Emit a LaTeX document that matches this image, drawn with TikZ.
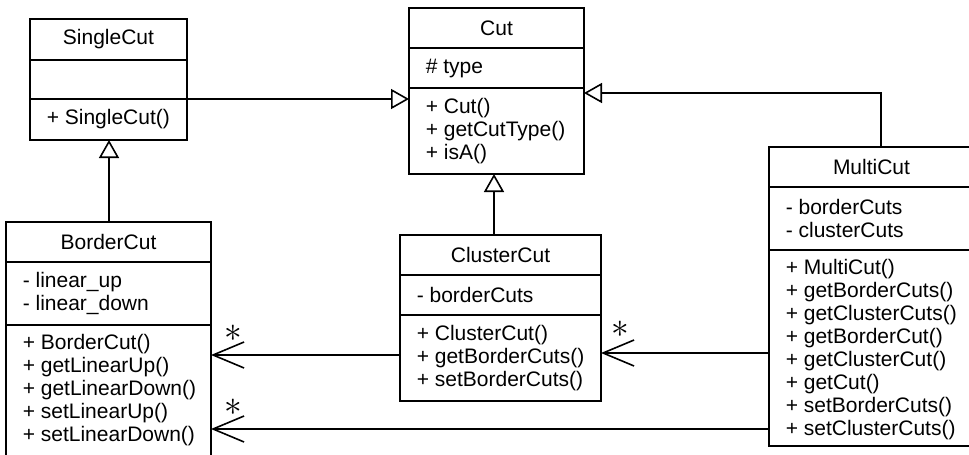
\documentclass[tikz,border=0pt]{standalone}
\usepackage{fontspec}
\usepackage{graphicx}
\setmainfont{Liberation Sans}
\usetikzlibrary{arrows.meta}
\begin{document}
\begin{tikzpicture}[x=1pt,y=-1pt, line width=1.6pt,
  comp/.style={draw, rectangle, inner sep=0pt, outer sep=0pt, anchor=north west},
  txt/.style={inner sep=0pt, align=left, font=\fontsize{21}{23}\selectfont, anchor=west},
  ttl/.style={inner sep=0pt, font=\fontsize{21}{23}\selectfont},
  gen/.style={-{Triangle[open,length=18pt,width=20pt]}},
  assoc/.style={-{Straight Barb[length=31pt,width=26pt]}},
  mult/.style={inner sep=0pt, font=\fontsize{20}{20}\selectfont}]
\useasboundingbox (0,0) rectangle (969,455);
\clip (0,0) rectangle (969,455);

% SingleCut
\node[comp, minimum width=157pt, minimum height=41pt] (scT) at (30,19) {};
\node[comp, minimum width=157pt, minimum height=39pt] (scA) at (30,60) {};
\node[comp, minimum width=157pt, minimum height=41pt] (scM) at (30,99) {};
\node[ttl] (scTt) at (scT) {SingleCut};
\node[txt] (scMt) at ([xshift=16pt]scM.west) {+ SingleCut()};

% Cut
\node[comp, minimum width=175pt, minimum height=40pt] (cutT) at (409,8) {};
\node[comp, minimum width=175pt, minimum height=40pt] (cutA) at (409,48) {};
\node[comp, minimum width=175pt, minimum height=86pt] (cutM) at (409,88) {};
\node[ttl] (cutTt) at (cutT) {Cut};
\node[txt] (cutAt) at ([xshift=16pt]cutA.west) {\# type};
\node[txt] (cutMt) at ([xshift=16pt]cutM.west) {+ Cut()\\+ getCutType()\\+ isA()};

% ClusterCut
\node[comp, minimum width=201pt, minimum height=40pt] (ccT) at (400,235) {};
\node[comp, minimum width=201pt, minimum height=40pt] (ccA) at (400,275) {};
\node[comp, minimum width=201pt, minimum height=86pt] (ccM) at (400,315) {};
\node[ttl] (ccTt) at (ccT) {ClusterCut};
\node[txt] (ccAt) at ([xshift=16pt]ccA.west) {- borderCuts};
\node[txt] (ccMt) at ([xshift=16pt]ccM.west) {+ ClusterCut()\\+ getBorderCuts()\\+ setBorderCuts()};

% BorderCut
\node[comp, minimum width=205pt, minimum height=40pt] (bcT) at (6,222) {};
\node[comp, minimum width=205pt, minimum height=63pt] (bcA) at (6,262) {};
\node[comp, minimum width=205pt, minimum height=145pt] (bcM) at (6,325) {};
\node[ttl] (bcTt) at (bcT) {BorderCut};
\node[txt] (bcAt) at ([xshift=16pt]bcA.west) {- linear\_up\\- linear\_down};
\node[txt] (bcMt) at ([shift={(16,65)}]bcM.north west) {+ BorderCut()\\+ getLinearUp()\\+ getLinearDown()\\+ setLinearUp()\\+ setLinearDown()};

% MultiCut
\node[comp, minimum width=205pt, minimum height=40pt] (mcT) at (769,147) {};
\node[comp, minimum width=205pt, minimum height=63pt] (mcA) at (769,187) {};
\node[comp, minimum width=205pt, minimum height=196pt] (mcM) at (769,250) {};
\node[ttl] (mcTt) at (mcT) {MultiCut};
\node[txt] (mcAt) at ([xshift=16pt]mcA.west) {- borderCuts\\- clusterCuts};
\node[txt] (mcMt) at ([shift={(16,100)}]mcM.north west) {+ MultiCut()\\+ getBorderCuts()\\+ getClusterCuts()\\+ getBorderCut()\\+ getClusterCut()\\+ getCut()\\+ setBorderCuts()\\+ setClusterCuts()};

% helper coordinates
\coordinate (j0) at (109,0);
\coordinate (j1) at (494,0);
\coordinate (j2) at (881,93);
\coordinate (y1) at (0,353);
\coordinate (y2) at (0,355);
\coordinate (y3) at (0,429);

% generalizations
\draw[gen] (scM.north east) -- (scM.north east -| cutM.west);
\draw[gen] (bcT.north -| j0) -- (scM.south -| j0);
\draw[gen] (ccT.north -| j1) -- (cutM.south -| j1);
\draw[gen] (mcT.north -| j2) |- (cutM.east |- j2);

% associations
\draw[assoc] (mcM.west |- y1) -- (ccM.east |- y1) node[mult, xshift=19pt, yshift=24pt] (s1) {\scalebox{1.7}{$\ast$}};
\draw[assoc] (ccM.west |- y2) -- (bcM.east |- y2) node[mult, xshift=22pt, yshift=22pt] (s2) {\scalebox{1.7}{$\ast$}};
\draw[assoc] (mcM.west |- y3) -- (bcM.east |- y3) node[mult, xshift=22pt, yshift=22pt] (s3) {\scalebox{1.7}{$\ast$}};
\end{tikzpicture}
\end{document}
